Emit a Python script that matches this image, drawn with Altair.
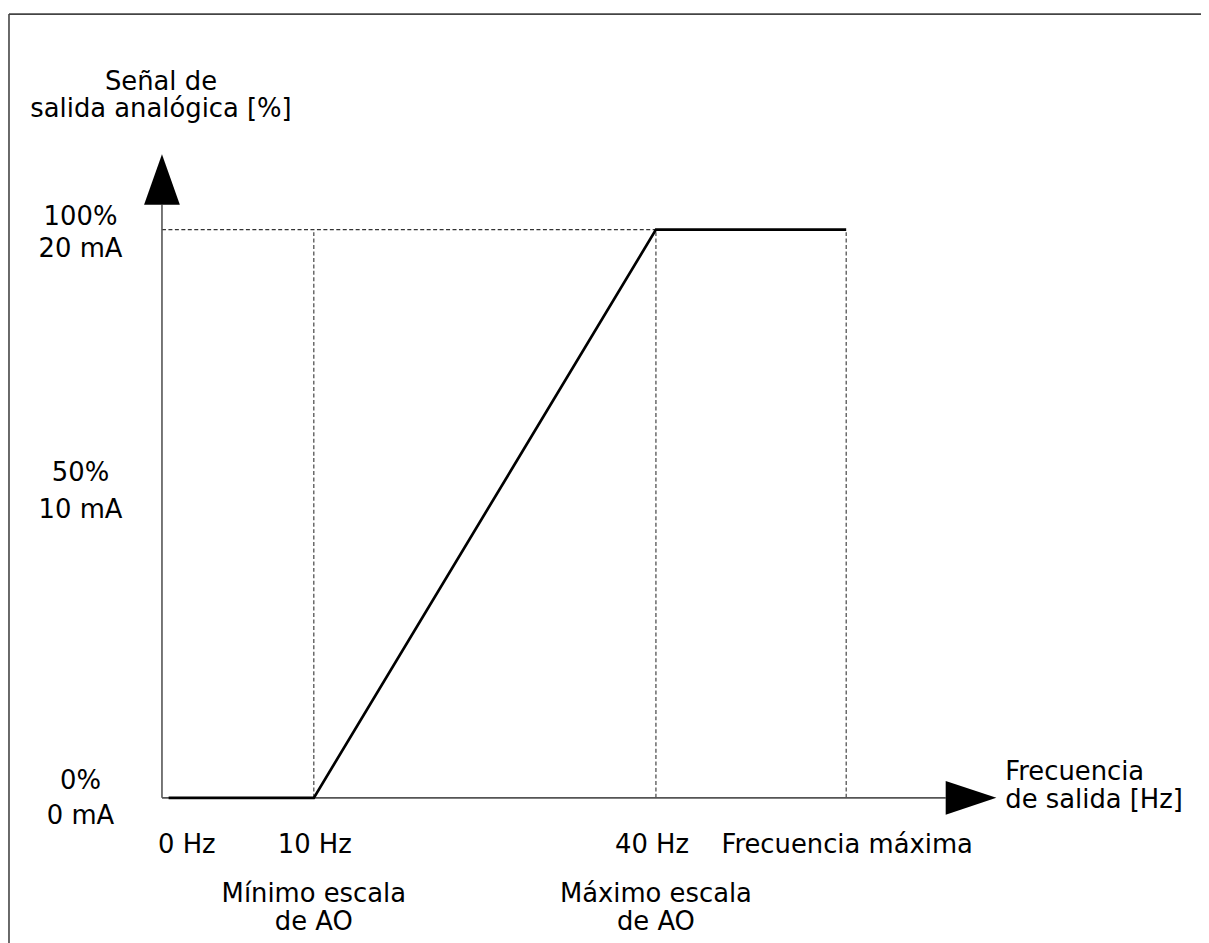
import altair as alt
import pandas as pd

# ---------------- data ----------------
freq_labels = ["0 Hz", "10 Hz", "40 Hz", "Frecuencia máxima"]
freq_pos = [0.0, 18.2, 59.2, 82.0]          # schematic positions on the frequency axis
signal_levels = [0, 50, 100]
signal_top = ["0%", "50%", "100%"]
signal_bottom = ["0 mA", "10 mA", "20 mA"]
curve_x = [0.8, 18.2, 59.2, 82.0]
curve_y = [0, 0, 100, 100]
y_title = ["Señal de", "salida analógica [%]"]
x_title = ["Frecuencia", "de salida [Hz]"]
ao_min_label = ["Mínimo escala", "de AO"]
ao_max_label = ["Máximo escala", "de AO"]

# ---------------- layout ----------------
W, H = 1201, 935
OX, OY = 163, 800          # page px of the origin
SX, SY = 8.4, 5.72         # px per unit
def ux(px): return (px - OX) / SX
def uy(py): return (OY - py) / SY
def dy(pix): return -pix / SY   # pixel offset (down positive) -> units

xs = alt.Scale(domain=[ux(8), ux(8 + W)], nice=False, zero=False)
ys = alt.Scale(domain=[uy(8 + H), uy(8)], nice=False, zero=False)
FONT = "DejaVu Sans"
FS = 26
LH = 28

def X(f="x"): return alt.X(f"{f}:Q", scale=xs, axis=None)
def Y(f="y"): return alt.Y(f"{f}:Q", scale=ys, axis=None)

# frame
frame = pd.DataFrame({
    "x": [ux(9), ux(9)], "x2": [ux(8 + W + 5), ux(9)],
    "y": [uy(11), uy(11)], "y2": [uy(11), uy(8 + H + 5)],
})
frame_l = alt.Chart(frame).mark_rule(color="#444", strokeWidth=1.6).encode(
    x=X(), x2="x2", y=Y(), y2="y2")

# axes
x_end = ux(952)
y_end = uy(203)
axes = pd.DataFrame({"x": [0, 0], "x2": [0, x_end], "y": [0, 0], "y2": [y_end, 0]})
axes_l = alt.Chart(axes).mark_rule(color="#555", strokeWidth=1.6).encode(
    x=X(), x2="x2", y=Y(), y2="y2")

# dotted guides
guides = pd.DataFrame({
    "x": [0] + freq_pos[1:],
    "x2": [freq_pos[2]] + freq_pos[1:],
    "y": [100, 0, 0, 0],
    "y2": [100, 100, 100, 100],
})
guides_l = alt.Chart(guides).mark_rule(color="#333", strokeWidth=1.1, strokeDash=[4, 2.5]).encode(
    x=X(), x2="x2", y=Y(), y2="y2")

# curve
curve = pd.DataFrame({"x": curve_x, "y": curve_y})
curve_l = alt.Chart(curve).mark_line(color="black", strokeWidth=2.7).encode(x=X(), y=Y())

# arrows
up = pd.DataFrame({"x": [0], "y": [uy(177.5)]})
up_l = alt.Chart(up).mark_point(shape="M0,-1L0.706,1L-0.706,1Z", size=2601, filled=True,
                                fill="black", opacity=1, strokeWidth=0).encode(x=X(), y=Y())
right = pd.DataFrame({"x": [ux(977.5)], "y": [0]})
right_l = alt.Chart(right).mark_point(shape="M1,0L-1,0.667L-1,-0.667Z", size=2601, filled=True,
                                      fill="black", opacity=1, strokeWidth=0).encode(x=X(), y=Y())

# texts (centered)
rows_c = []
lab_x = ux(81)
top_off = {0: -17, 50: -41, 100: -13}
bot_off = {0: 18, 50: -4, 100: 20}
for lv, t, b in zip(signal_levels, signal_top, signal_bottom):
    rows_c.append({"text": t, "x": lab_x, "y": lv + dy(top_off[lv])})
    rows_c.append({"text": b, "x": lab_x, "y": lv + dy(bot_off[lv])})
x_lab_shift = [25, 1, -4, 1]
for lab, p, s in zip(freq_labels, freq_pos, x_lab_shift):
    rows_c.append({"text": lab, "x": p + s / SX, "y": dy(48)})
for i, line in enumerate(y_title):
    rows_c.append({"text": line, "x": ux(162), "y": uy(79 + LH * i)})
for i, line in enumerate(ao_min_label):
    rows_c.append({"text": line, "x": freq_pos[1], "y": dy(97 + LH * i)})
for i, line in enumerate(ao_max_label):
    rows_c.append({"text": line, "x": freq_pos[2], "y": dy(97 + LH * i)})
text_c = alt.Chart(pd.DataFrame(rows_c)).mark_text(
    font=FONT, fontSize=FS, color="black", align="center", baseline="middle").encode(
    x=X(), y=Y(), text="text:N")

rows_l = []
for i, line in enumerate(x_title):
    rows_l.append({"text": line, "x": ux(1012), "y": uy(774 + LH * i)})
text_l = alt.Chart(pd.DataFrame(rows_l)).mark_text(
    font=FONT, fontSize=FS, color="black", align="left", baseline="middle").encode(
    x=X(), y=Y(), text="text:N")

chart = alt.layer(frame_l, guides_l, axes_l, curve_l, up_l, right_l, text_c, text_l).properties(
    width=W, height=H, autosize="none", padding=0, background="white"
).configure_view(strokeWidth=0)

chart.save("out.html", embed_options={"renderer": "svg", "actions": False})
